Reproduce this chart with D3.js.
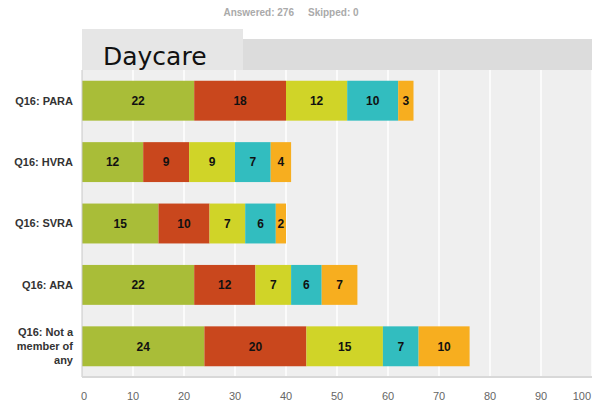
<!DOCTYPE html>
<html>
<head>
<meta charset="utf-8">
<script src="https://cdn.jsdelivr.net/npm/d3@7"></script>
<style>
  body { margin: 0; background: #fff; }
  svg { display: block; }
</style>
</head>
<body>
<div id="visContainer"></div>
<script>
'use strict';

// row labels (top to bottom)
const categories = ["Q16: PARA", "Q16: HVRA", "Q16: SVRA", "Q16: ARA", "Q16: Not a member of any"];
// stacked segments, one array per answer choice
const seriesA = [22, 12, 15, 22, 24];
const seriesB = [18, 9, 10, 12, 20];
const seriesC = [12, 9, 7, 7, 15];
const seriesD = [10, 7, 6, 6, 7];
const seriesE = [3, 4, 2, 7, 10];
const seriesColors = ["#a9bd38", "#c9471d", "#d0d428", "#32bdbf", "#f7ae1f"];
const xTicks = [0, 10, 20, 30, 40, 50, 60, 70, 80, 90, 100];
const chartTitle = "Daycare";
const answeredText = "Answered: 276";
const skippedText = "Skipped: 0";

var svg = d3.select('#visContainer')
    .append('svg')
    .attr('width', 592)
    .attr('height', 404);

var margin = {top: 70, right: 0, bottom: 27, left: 82},
    width = 592 - margin.left - margin.right,
    height = 404 - margin.top - margin.bottom;

// answered / skipped counts at the top
svg.append("text")
    .attr("x", 294).attr("y", 16)
    .attr("text-anchor", "end")
    .style("font", "bold 10px Arial, 'Liberation Sans', sans-serif")
    .style("fill", "#aaa")
    .text(answeredText);
svg.append("text")
    .attr("x", 308).attr("y", 16)
    .style("font", "bold 10px Arial, 'Liberation Sans', sans-serif")
    .style("fill", "#aaa")
    .text(skippedText);

// header band and title box
svg.append("rect")
    .attr("x", margin.left).attr("y", 39)
    .attr("width", width).attr("height", margin.top - 39)
    .attr("fill", "#dcdcdc");
svg.append("rect")
    .attr("x", margin.left).attr("y", 29)
    .attr("width", 161).attr("height", margin.top - 29)
    .attr("fill", "#e6e6e6");
svg.append("text")
    .attr("x", 103).attr("y", 65)
    .style("font", "25px 'DejaVu Sans', Verdana, sans-serif")
    .style("fill", "#111")
    .text(chartTitle);

var g = svg.append("g")
    .attr("transform", "translate(" + margin.left + "," + margin.top + ")");

var x = d3.scaleLinear().domain([0, 100]).range([0, width]);
var y = d3.scaleBand().domain(categories).range([0, height]).paddingInner(0.35).paddingOuter(0.175);

// plot background
g.append("rect")
    .attr("width", width).attr("height", height)
    .attr("fill", "#efefef");

// vertical gridlines
g.selectAll(".grid")
    .data(xTicks.slice(1))
    .enter().append("line")
    .attr("class", "grid")
    .attr("x1", d => x(d)).attr("x2", d => x(d))
    .attr("y1", 0).attr("y2", height)
    .attr("stroke", "#fff")
    .attr("stroke-width", 1.5);

// build stacked data
var series = [seriesA, seriesB, seriesC, seriesD, seriesE];
var rows = categories.map(function(c, i) {
    var row = {name: c};
    series.forEach(function(s, k) { row["s" + k] = s[i]; });
    return row;
});
var stack = d3.stack().keys(series.map((s, k) => "s" + k))(rows);

var layers = g.selectAll(".layer")
    .data(stack)
    .enter().append("g")
    .attr("class", "layer")
    .attr("fill", (d, k) => seriesColors[k]);

layers.selectAll("rect")
    .data(d => d)
    .enter().append("rect")
    .attr("x", d => x(d[0]))
    .attr("y", d => y(d.data.name))
    .attr("width", d => x(d[1]) - x(d[0]))
    .attr("height", y.bandwidth());

layers.selectAll("text")
    .data(d => d)
    .enter().append("text")
    .attr("x", d => (x(d[0]) + x(d[1])) / 2)
    .attr("y", d => y(d.data.name) + y.bandwidth() / 2)
    .attr("dy", "0.36em")
    .attr("text-anchor", "middle")
    .style("font", "bold 12px Arial, 'Liberation Sans', sans-serif")
    .style("fill", "#111")
    .text(d => d[1] - d[0]);

// axis lines
g.append("line")
    .attr("x1", 0).attr("x2", 0).attr("y1", 0).attr("y2", height)
    .attr("stroke", "#c8c8c8");
g.append("line")
    .attr("x1", 0).attr("x2", width).attr("y1", height).attr("y2", height)
    .attr("stroke", "#d8d8d8").attr("stroke-width", 2);

// x tick labels (first and last nudged inside the frame)
g.selectAll(".xlabel")
    .data(xTicks)
    .enter().append("text")
    .attr("class", "xlabel")
    .attr("x", d => d === 0 ? x(d) + 2 : (d === 100 ? x(d) - 1 : x(d)))
    .attr("y", height + 23)
    .attr("text-anchor", d => d === 100 ? "end" : "middle")
    .style("font", "11px Arial, 'Liberation Sans', sans-serif")
    .style("fill", "#666")
    .text(d => d);

// y labels, wrapped like the original
var wrapped = {"Q16: Not a member of any": ["Q16: Not a", "member of", "any"]};
g.selectAll(".ylabel")
    .data(categories)
    .enter().append("text")
    .attr("class", "ylabel")
    .attr("text-anchor", "end")
    .style("font", "bold 11px Arial, 'Liberation Sans', sans-serif")
    .style("fill", "#333")
    .each(function(d) {
        var lines = wrapped[d] || [d];
        var cy = y(d) + y.bandwidth() / 2;
        var t = d3.select(this);
        lines.forEach(function(line, i) {
            t.append("tspan")
                .attr("x", -9)
                .attr("y", cy + (i - (lines.length - 1) / 2) * 14)
                .attr("dy", "0.36em")
                .text(line);
        });
    });
</script>
</body>
</html>
